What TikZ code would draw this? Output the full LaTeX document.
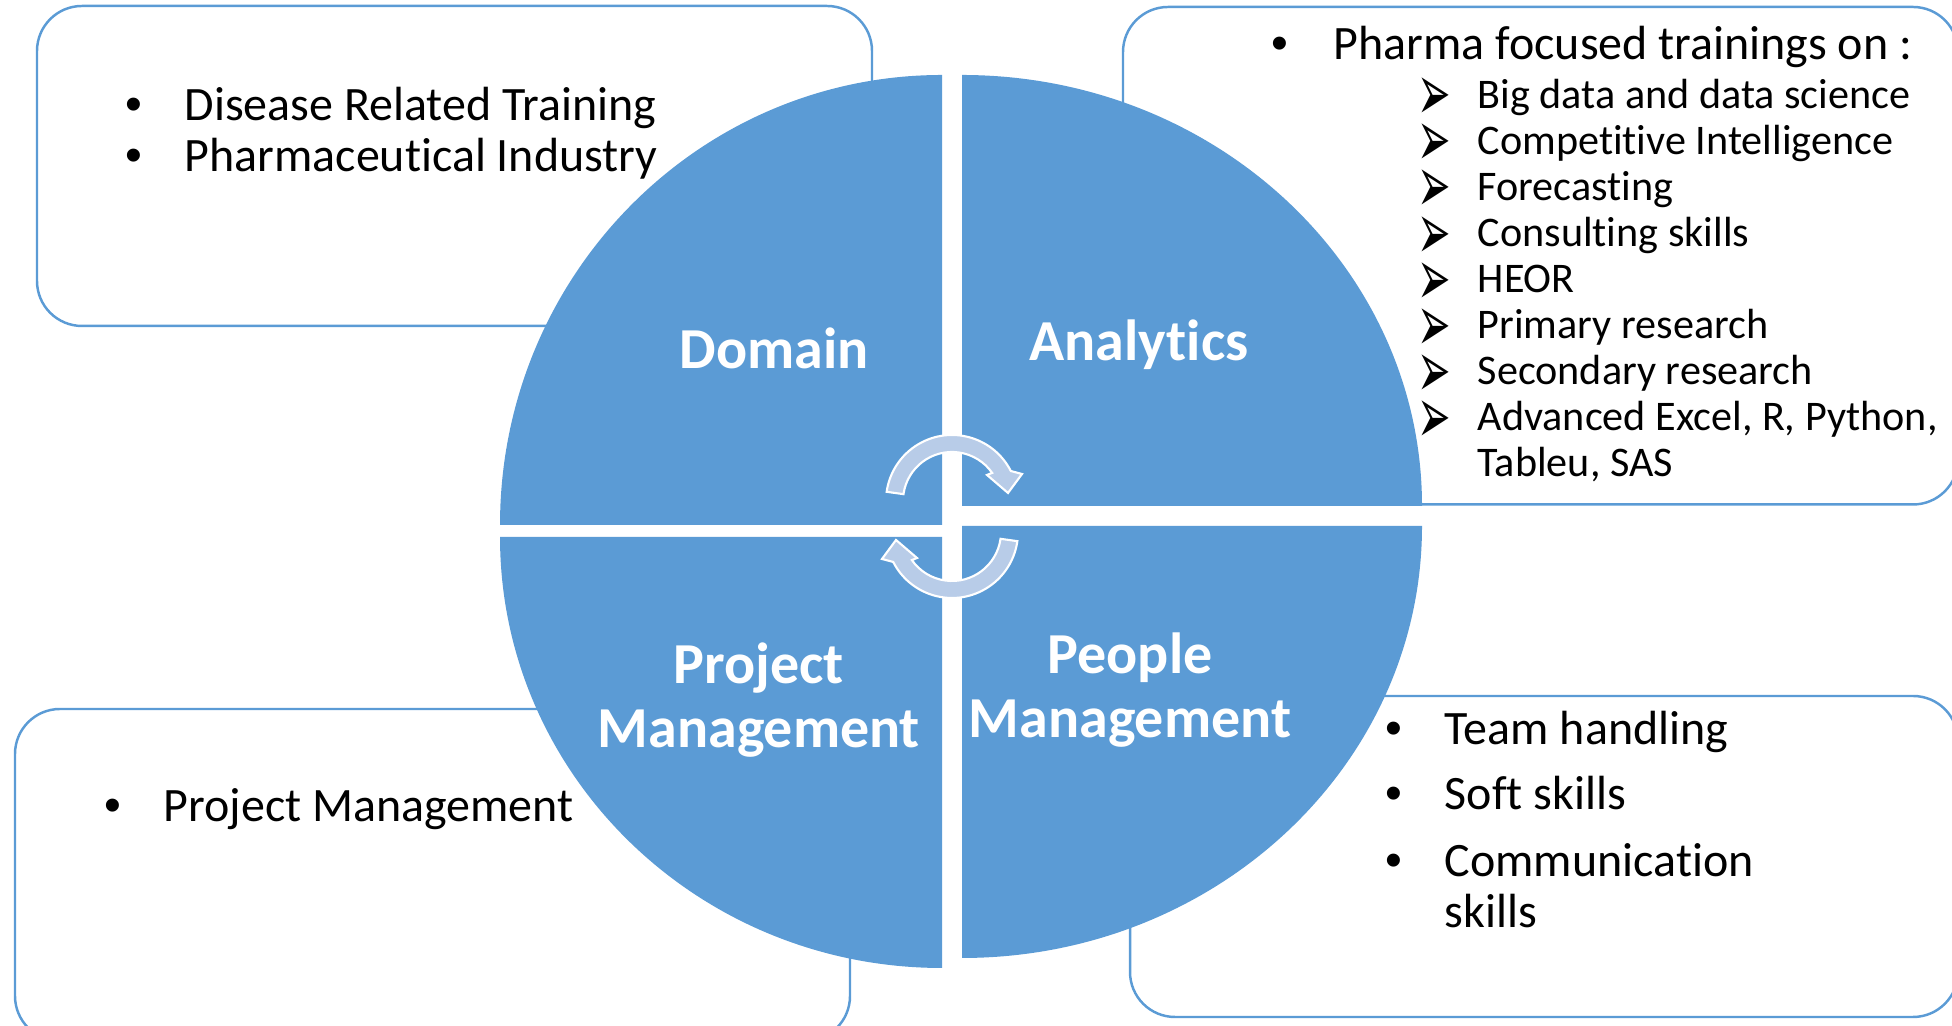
\documentclass[tikz,border=0pt]{standalone}
\usepackage{fontspec}
\setmainfont{Carlito}[Ligatures=NoCommon]
\newfontfamily\arrowfont{DejaVu Sans}
\newfontfamily\dotfont{Liberation Sans}
\usetikzlibrary{calc}
\definecolor{quadblue}{RGB}{91,155,213}
\definecolor{arrowblue}{RGB}{184,204,232}
\newcommand{\bodysize}{\fontsize{13.65}{16}\selectfont}
\newcommand{\subsize}{\fontsize{12}{14}\selectfont}
\newcommand{\labelsize}{\fontsize{16.5}{19}\selectfont\bfseries}
\newcommand{\tipmark}{\smash{\scalebox{0.95}[1.9]{\raisebox{-1.8pt}{➢}}}}

\begin{document}
\begin{tikzpicture}[
    quad/.style={ fill=quadblue },
    infobox/.style={ draw=quadblue,line width=0.7pt,rounded corners=0.45cm },
    cyclearrow/.style={ fill=arrowblue,draw=white,line width=0.6pt },
    quadtext/.style={ text=white,font=\labelsize,anchor=base,inner sep=0pt },
    itemtext/.style={ font=\bodysize,anchor=base west,inner sep=0pt },
    itemdot/.style={ font=\dotfont\bodysize,anchor=base,inner sep=0pt },
    subtext/.style={ font=\subsize,anchor=base west,inner sep=0pt },
    subarrow/.style={ font=\arrowfont\subsize,anchor=base west,inner sep=0pt }
  ]
    \useasboundingbox (0,0) rectangle (19.52,10.26);

    % boxes behind the circle
    \draw [ infobox ] (0.37,7.00) rectangle (8.72,10.20);
    \draw [ infobox ] (11.23,5.215) rectangle (19.58,10.19);
    \draw [ infobox ] (0.15,-0.15) rectangle (8.50,3.17);
    \draw [ infobox ] (11.30,0.09) rectangle (19.58,3.30);

    % the four quarters
    \fill [ quad ] (9.42,5.01) -- (5.00,5.01) arc [ start angle=180,end angle=90,x radius=4.42,y radius=4.50 ] -- cycle;
    \fill [ quad ] (9.62,5.20) -- (9.62,9.51) arc [ start angle=90,end angle=0,x radius=4.60,y radius=4.31 ] -- cycle;
    \fill [ quad ] (9.42,4.89) -- (5.00,4.89) arc [ start angle=180,end angle=270,x radius=4.42,y radius=4.31 ] -- cycle;
    \fill [ quad ] (9.62,5.00) -- (14.22,5.00) arc [ start angle=0,end angle=-90,x radius=4.60,y radius=4.32 ] -- cycle;

    % cycle arrows
    \coordinate (ctop) at (9.52,5.25);
    \coordinate (cbot) at (9.52,4.94);
    \draw [ cyclearrow ] ($(ctop)+(172:0.49)$) arc [ start angle=172,end angle=35,radius=0.49 ] -- (9.87,5.51) -- (10.08,5.33) -- (10.22,5.52) -- ($(ctop)+(27:0.66)$) arc [ start angle=27,end angle=172,radius=0.66 ] -- cycle;
    \draw [ cyclearrow ] ($(cbot)+(352:0.49)$) arc [ start angle=352,end angle=215,radius=0.49 ] -- (9.17,4.68) -- (8.96,4.86) -- (8.82,4.67) -- ($(cbot)+(207:0.66)$) arc [ start angle=207,end angle=352,radius=0.66 ] -- cycle;

    \node [ quadtext ] (domain) at (7.74,6.57) {Domain};
    \node [ quadtext ] (analytics) at (11.39,6.65) {Analytics};
    \node [ quadtext ] (projA) at (7.59,3.42) {Project};
    \node [ quadtext ] (projB) at (7.59,2.78) {Management};
    \node [ quadtext ] (peopleA) at (11.30,3.52) {People};
    \node [ quadtext ] (peopleB) at (11.30,2.88) {Management};

    % top left
    \node [ itemdot ] (dotA) at (1.34,9.05) {•}; \node [ itemtext ] (disease) at (1.84,9.05) {Disease Related Training};
    \node [ itemdot ] (dotB) at (1.34,8.54) {•}; \node [ itemtext ] (industry) at (1.84,8.54) {Pharmaceutical Industry};

    % top right
    \node [ itemdot ] (dotC) at (12.80,9.66) {•}; \node [ itemtext ] (focused) at (13.33,9.66) {Pharma focused trainings on :};
    \foreach \txt [count=\i] in {Big data and data science,Competitive Intelligence,Forecasting,Consulting skills,HEOR,Primary research,Secondary research,{Advanced Excel, R, Python,}} {
        \node [ subarrow ] (tip\i) at (14.17,9.63-0.46*\i) {\tipmark};
        \node [ subtext ] (topic\i) at (14.77,9.63-0.46*\i) {\txt};
    }
    \node [ subtext ] (topic9) at (14.77,5.49) {Tableu, SAS};

    % bottom left
    \node [ itemdot ] (dotD) at (1.13,2.04) {•}; \node [ itemtext ] (project) at (1.63,2.04) {Project Management};

    % bottom right
    \node [ itemdot ] (dotE) at (13.94,2.81) {•}; \node [ itemtext ] (team) at (14.44,2.81) {Team handling};
    \node [ itemdot ] (dotF) at (13.94,2.16) {•}; \node [ itemtext ] (soft) at (14.44,2.16) {Soft skills};
    \node [ itemdot ] (dotG) at (13.94,1.49) {•}; \node [ itemtext ] (comm) at (14.44,1.49) {Communication};
    \node [ itemtext ] (commB) at (14.44,0.98) {skills};
\end{tikzpicture}
\end{document}
